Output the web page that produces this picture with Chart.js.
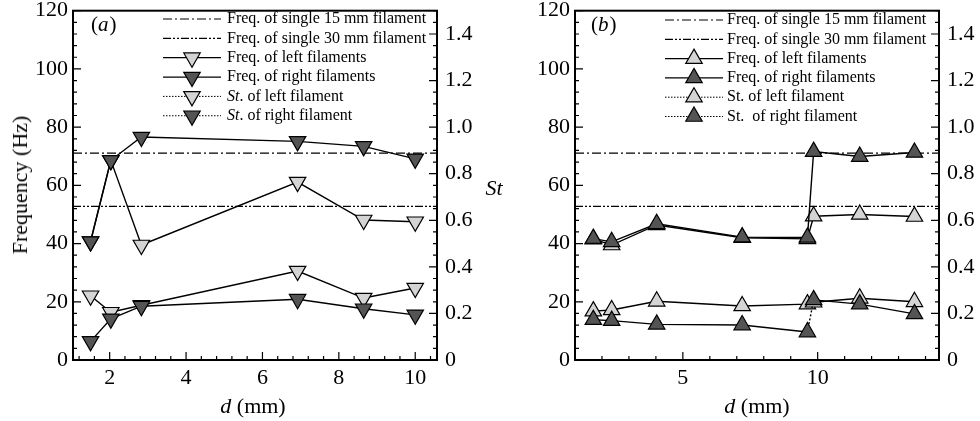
<!DOCTYPE html>
<html><head><meta charset="utf-8">
<script src="https://cdn.jsdelivr.net/npm/chart.js@4.4.0/dist/chart.umd.min.js"></script>
<style>
html,body{margin:0;padding:0;background:#fff;width:980px;height:421px;overflow:hidden;}
.wrap{position:absolute;top:0;width:490px;height:421px;}
#wa{left:0}#wb{left:490px}
.lbl{position:absolute;font-family:"Liberation Serif","Times New Roman",serif;font-size:22px;color:#000;white-space:nowrap;line-height:1;}
</style></head><body>
<div class="wrap" id="wa"><canvas id="ca" width="490" height="421"></canvas></div>
<div class="wrap" id="wb"><canvas id="cb" width="490" height="421"></canvas></div>
<div class="lbl" style="left:20px;top:185px;transform:translate(-50%,-50%) rotate(-90deg);">Frequency (Hz)</div>
<div class="lbl" style="left:494px;top:188px;transform:translate(-50%,-50%);font-style:italic;">St</div>
<div class="lbl" style="left:253px;top:406px;transform:translate(-50%,-50%);"><i>d</i> (mm)</div>
<div class="lbl" style="left:757px;top:406px;transform:translate(-50%,-50%);"><i>d</i> (mm)</div>
<script>
// ---------- Panel (a) data ----------
const dA = [1.5, 2.03, 2.83, 6.92, 8.65, 10.0];
const freqLeftA  = [40.7, 68.6, 39.5, 61.1, 48.1, 47.5];
const freqRightA = [40.7, 68.6, 76.6, 75.1, 73.4, 69.1];
const stLeftA    = [0.276, 0.205, 0.235, 0.382, 0.266, 0.309];
const stRightA   = [0.080, 0.177, 0.231, 0.261, 0.220, 0.194];
// ---------- Panel (b) data ----------
const dB = [1.68, 2.36, 4.03, 7.2, 9.62, 9.85, 11.56, 13.59];
const freqLeftB  = [41.5, 39.5, 46.4, 42.0, 41.6, 49.4, 50.0, 49.3];
const freqRightB = [41.7, 40.6, 46.8, 42.2, 42.1, 71.6, 69.9, 71.3];
const stLeftB    = [0.210, 0.215, 0.252, 0.232, 0.240, 0.248, 0.265, 0.250];
const stRightB   = [0.173, 0.169, 0.153, 0.150, 0.120, 0.258, 0.240, 0.198];
// ---------- reference frequencies (single filaments) ----------
const freqSingle15 = 71.1;
const freqSingle30 = 52.8;
// ---------- tick values ----------
const xTicksA = [2, 4, 6, 8, 10];
const xTicksB = [5, 10];
const yTicks = [0, 20, 40, 60, 80, 100, 120];
const stTicks = [0, 0.2, 0.4, 0.6, 0.8, 1.0, 1.2, 1.4];
// ---------- legend labels ----------
const legendA = ['Freq. of single 15 mm filament', 'Freq. of single 30 mm filament', 'Freq. of left filaments', 'Freq. of right filaments', 'St. of left filament', 'St. of right filament'];
const legendB = ['Freq. of single 15 mm filament', 'Freq. of single 30 mm filament', 'Freq. of left filaments', 'Freq. of right filaments', 'St. of left filament', 'St.  of right filament'];

const SERIF = '"Liberation Serif","Times New Roman",serif';
const LIGHT = '#d4d4d4', DARK = '#545454';

function pts(xs, ys){ return xs.map((x,i)=>({x:x, y:ys[i]})); }

function tri(ctx, x, y, r, rotDeg, fill){
  const rad = rotDeg*Math.PI/180;
  ctx.beginPath();
  for(let k=0;k<3;k++){
    const a = rad + k*2*Math.PI/3;
    const px = x + Math.sin(a)*r, py = y - Math.cos(a)*r;
    if(k) ctx.lineTo(px,py); else ctx.moveTo(px,py);
  }
  ctx.closePath();
  ctx.fillStyle = fill; ctx.fill();
  ctx.lineWidth = 1.2; ctx.strokeStyle = '#000'; ctx.stroke();
}

function decor(cfg){
  return {
    id:'decor',
    afterDatasetsDraw(chart){
      const ctx = chart.ctx, a = chart.chartArea;
      const sx = chart.scales.x, sy = chart.scales.y, s2 = chart.scales.y2;
      ctx.save();
      ctx.strokeStyle = '#000';
      ctx.lineWidth = 1.2;
      ctx.beginPath();
      for(let v = cfg.xMinorStart; v <= sx.max + 1e-9; v += cfg.xMinorStep){
        const p = sx.getPixelForValue(v);
        if(p < a.left+1 || p > a.right-1) continue;
        const major = cfg.xMajor.some(m=>Math.abs(m-v)<1e-6);
        ctx.moveTo(p, a.bottom); ctx.lineTo(p, a.bottom - (major?8:4));
      }
      for(let v = 0; v <= 120 + 1e-9; v += 4){
        const p = sy.getPixelForValue(v);
        const major = Math.abs(v/20 - Math.round(v/20))<1e-6;
        ctx.moveTo(a.left, p); ctx.lineTo(a.left + (major?8:4), p);
      }
      for(let v = 0; v <= 1.5 + 1e-9; v += 0.05){
        const p = s2.getPixelForValue(v);
        const major = Math.abs(v/0.2 - Math.round(v/0.2))<1e-6;
        ctx.moveTo(a.right, p); ctx.lineTo(a.right - (major?8:4), p);
      }
      ctx.stroke();
      ctx.lineWidth = 2;
      ctx.strokeRect(a.left, a.top, a.right-a.left, a.bottom-a.top);
      ctx.fillStyle = '#000';
      ctx.textBaseline = 'middle';
      ctx.textAlign = 'left';
      let px = cfg.panel.x;
      ctx.font = '21px ' + SERIF; ctx.fillText('(', px, cfg.panel.y); px += ctx.measureText('(').width;
      ctx.font = 'italic 21px ' + SERIF; ctx.fillText(cfg.panel.letter, px, cfg.panel.y); px += ctx.measureText(cfg.panel.letter).width + 1;
      ctx.font = '21px ' + SERIF; ctx.fillText(')', px, cfg.panel.y);
      const L = cfg.legend;
      chart.data.datasets.forEach((ds, i)=>{
        const y = L.y0 + i*L.dy;
        ctx.save();
        ctx.strokeStyle = '#000';
        ctx.lineWidth = ds.legendDash && ds.legendDash.length===2 ? 1 : 1.2;
        ctx.setLineDash(ds.legendDash || []);
        ctx.beginPath(); ctx.moveTo(L.x0, y); ctx.lineTo(L.x1, y); ctx.stroke();
        ctx.restore();
        if(ds.pointRadius > 0){
          tri(ctx, (L.x0+L.x1)/2, y, ds.pointRadius, ds.pointRotation, ds.pointBackgroundColor);
        }
        ctx.fillStyle = '#000';
        ctx.textBaseline = 'middle';
        let tx = L.tx;
        const label = cfg.labels[i];
        if(cfg.italicSt && label.indexOf('St') === 0){
          ctx.font = 'italic 16px ' + SERIF; ctx.fillText('St', tx, y); tx += ctx.measureText('St').width;
          ctx.font = '16px ' + SERIF; ctx.fillText(label.slice(2), tx, y);
        } else {
          ctx.font = '16px ' + SERIF; ctx.fillText(label, tx, y);
        }
      });
      ctx.restore();
    }
  };
}

function makeDatasets(xs, fl, fr, sl, sr, xmin, xmax, down, dotIdx){
  const rot = down ? 180 : 0;
  const base = {showLine:true, borderColor:'#000', borderWidth:1.4, pointRadius:9.5, pointBorderColor:'#000', pointBorderWidth:1.2, pointStyle:'triangle', pointRotation:rot, tension:0};
  return [
    {label:'15', data:[{x:xmin,y:freqSingle15},{x:xmax,y:freqSingle15}], yAxisID:'y', showLine:true, borderColor:'#000', borderWidth:1.3, borderDash:[9,3,2,3], legendDash:[9,3,2,3], pointRadius:0, order:10},
    {label:'30', data:[{x:xmin,y:freqSingle30},{x:xmax,y:freqSingle30}], yAxisID:'y', showLine:true, borderColor:'#000', borderWidth:1.3, borderDash:[8,2,2,2,2,2], legendDash:[8,2,2,2,2,2], pointRadius:0, order:9},
    Object.assign({}, base, {label:'fl', data:pts(xs, fl), yAxisID:'y', pointBackgroundColor:LIGHT, order:8}),
    Object.assign({}, base, {label:'fr', data:pts(xs, fr), yAxisID:'y', pointBackgroundColor:DARK, order:7}),
    Object.assign({}, base, {label:'sl', data:pts(xs, sl), yAxisID:'y2', pointBackgroundColor:LIGHT, legendDash:[1.5,1.5], order:6}),
    Object.assign({}, base, {label:'sr', data:pts(xs, sr), yAxisID:'y2', pointBackgroundColor:DARK, legendDash:[1.5,1.5], order:5,
      segment:{borderDash: c => (dotIdx !== null && c.p0DataIndex === dotIdx) ? [2,2] : undefined}})
  ];
}

function makeChart(id, opt){
  const tickFont = {family:SERIF, size:22};
  const noPadV = s => { s.paddingTop = 0; s.paddingBottom = 0; };
  return new Chart(document.getElementById(id), {
    type:'scatter',
    data:{datasets: opt.datasets},
    options:{
      responsive:false, animation:false, events:[],
      layout:{padding:{top:10, right:0, left:0, bottom:0}},
      plugins:{legend:{display:false}, tooltip:{enabled:false}},
      scales:{
        x:{type:'linear', position:'bottom', min:opt.xmin, max:opt.xmax,
           grid:{display:false, drawTicks:false}, border:{display:false},
           ticks:{font:tickFont, color:'#000', padding:5, maxRotation:0, autoSkip:false},
           afterBuildTicks: s => { s.ticks = opt.xTicks.map(v=>({value:v})); },
           afterFit: s => { s.height = 61; s.paddingLeft = 0; s.paddingRight = 0; }},
        y:{type:'linear', position:'left', min:0, max:120,
           grid:{display:false, drawTicks:false}, border:{display:false},
           ticks:{font:tickFont, color:'#000', padding:5, autoSkip:false},
           afterBuildTicks: s => { s.ticks = yTicks.map(v=>({value:v})); },
           afterFit: s => { s.width = opt.leftW; noPadV(s); }},
        y2:{type:'linear', position:'right', min:0, max:1.5,
           grid:{display:false, drawTicks:false}, border:{display:false},
           ticks:{font:tickFont, color:'#000', padding:8, autoSkip:false,
                  callback: v => v === 0 ? '0' : Number(v).toFixed(1)},
           afterBuildTicks: s => { s.ticks = stTicks.map(v=>({value:v})); },
           afterFit: s => { s.width = opt.rightW; noPadV(s); }}
      }
    },
    plugins:[decor(opt.decor)]
  });
}

makeChart('ca', {
  xmin:1.04, xmax:10.57, xTicks:xTicksA, leftW:73, rightW:53,
  datasets: makeDatasets(dA, freqLeftA, freqRightA, stLeftA, stRightA, 1.04, 10.57, true, null),
  decor:{xMajor:xTicksA, xMinorStart:1.2, xMinorStep:0.4,
         panel:{x:91, y:25, letter:'a'},
         legend:{x0:163, x1:221, tx:227, y0:19, dy:19.35},
         labels:legendA, italicSt:true}
});
makeChart('cb', {
  xmin:1.0, xmax:14.5, xTicks:xTicksB, leftW:85, rightW:41,
  datasets: makeDatasets(dB, freqLeftB, freqRightB, stLeftB, stRightB, 1.0, 14.5, false, 4),
  decor:{xMajor:xTicksB, xMinorStart:1, xMinorStep:1,
         panel:{x:101, y:25, letter:'b'},
         legend:{x0:175, x1:233, tx:237, y0:20, dy:19.3},
         labels:legendB, italicSt:false}
});
</script>
</body></html>
